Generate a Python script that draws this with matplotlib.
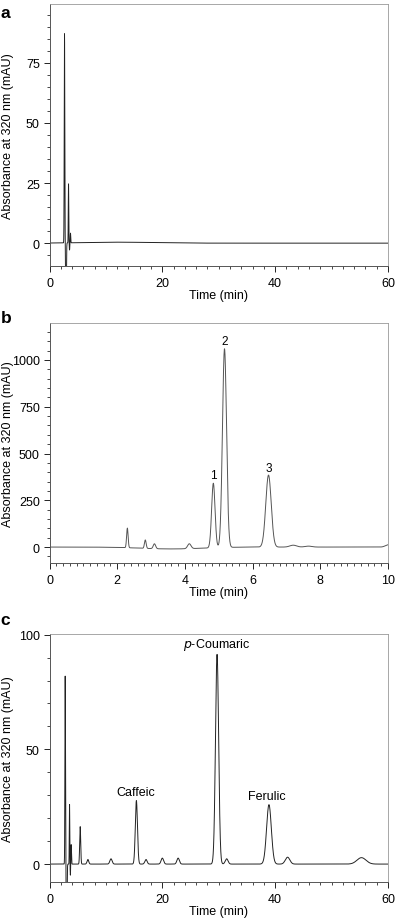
#!/usr/bin/env python3

import numpy as np
import matplotlib
import matplotlib.pyplot as plt
from matplotlib.ticker import MultipleLocator

matplotlib.use('Agg')

plt.rcParams['font.family'] = ['Liberation Sans', 'DejaVu Sans']
plt.rcParams['font.size'] = 9

# peak tables: retention time (min), height (mAU), sigma (min)
# a: blank
times_a = [2.66, 2.92, 3.37, 3.55, 3.72, 12.0]
heights_a = [87.0, -30.0, 24.5, -3.0, 4.0, 0.4]
widths_a = [0.05, 0.06, 0.04, 0.04, 0.04, 6.0]

# b: standards 1, 2, 3
times_b = [2.30, 2.83, 3.10, 3.60, 4.13, 4.84, 5.17, 6.47, 7.20, 7.65, 10.0]
heights_b = [105.0, 45.0, 26.0, -10.0, 26.0, 345.0, 1062.0, 385.0, 10.0, 5.0, 12.0]
widths_b = [0.022, 0.025, 0.035, 0.9, 0.05, 0.05, 0.06, 0.08, 0.1, 0.1, 0.08]
labels_b = ['1', '2', '3']
label_pos_b = [(4.84, 352), (5.17, 1070), (6.47, 390)]

# c: sample
times_c = [2.78, 3.02, 3.55, 3.70, 3.84, 5.44, 6.8, 10.9, 15.4, 17.1, 20.0, 22.8,
           29.7, 31.4, 38.9, 42.2, 55.3]
heights_c = [82.0, -28.0, 26.0, -5.0, 8.5, 16.3, 2.0, 2.3, 27.7, 2.0, 2.6, 2.6,
             91.4, 2.3, 25.9, 3.0, 2.8]
widths_c = [0.05, 0.07, 0.04, 0.04, 0.05, 0.09, 0.15, 0.2, 0.19, 0.2, 0.22, 0.22,
            0.28, 0.25, 0.42, 0.4, 0.8]
labels_c = ['Caffeic', '$\\it{p}$-Coumaric', 'Ferulic']
label_pos_c = [(15.3, 31.3), (29.6, 95.8), (38.6, 29.5)]


def trace(t, times, heights, widths):
    y = np.zeros_like(t)
    for t0, h, s in zip(times, heights, widths):
        y += h * np.exp(-0.5 * ((t - t0) / s) ** 2)
    return y


def style(ax, xlim, ylim, xmaj, xmin, ymaj, ymin):
    ax.set_xlim(*xlim)
    ax.set_ylim(*ylim)
    ax.xaxis.set_major_locator(MultipleLocator(xmaj))
    ax.xaxis.set_minor_locator(MultipleLocator(xmin))
    ax.yaxis.set_major_locator(MultipleLocator(ymaj))
    ax.yaxis.set_minor_locator(MultipleLocator(ymin))
    ax.tick_params(which='major', direction='out', length=4, width=0.6, labelsize=9)
    ax.tick_params(axis='x', which='major', pad=4)
    ax.tick_params(axis='y', which='major', pad=3)
    ax.tick_params(which='minor', direction='out', length=2.5, width=0.5)
    for side in ['left', 'bottom']:
        ax.spines[side].set_color('#555555')
        ax.spines[side].set_linewidth(0.7)
    for side in ['top', 'right']:
        ax.spines[side].set_color('#999999')
        ax.spines[side].set_linewidth(0.6)
    ax.set_xlabel('Time (min)', fontsize=9, labelpad=0)
    ax.set_ylabel('Absorbance at 320 nm (mAU)', fontsize=9)
    ax.yaxis.set_label_coords(-0.106, 0.5)


fig = plt.figure(figsize=(3.97, 9.2), dpi=100)
W = 0.8526
ax_a = fig.add_axes([0.1247, 0.7098, W, 0.2848])
ax_b = fig.add_axes([0.1247, 0.3870, W, 0.2605])
ax_c = fig.add_axes([0.1247, 0.0405, W, 0.2693])

t60 = np.linspace(0, 60, 12001)
t10 = np.linspace(0, 10, 4001)

ax_a.plot(t60, trace(t60, times_a, heights_a, widths_a), color='#222222', lw=0.7)
style(ax_a, (0, 60), (-9.5, 99.5), 20, 2, 25, 5)

ax_b.plot(t10, trace(t10, times_b, heights_b, widths_b), color='#555555', lw=0.7)
style(ax_b, (0, 10), (-85, 1196), 2, 0.2, 250, 50)
for lab, (x, y) in zip(labels_b, label_pos_b):
    ax_b.text(x, y, lab, ha='center', va='bottom', fontsize=8.5)

ax_c.plot(t60, trace(t60, times_c, heights_c, widths_c), color='#222222', lw=0.7)
style(ax_c, (0, 60), (-7.7, 100.3), 20, 2, 50, 10)
for lab, (x, y) in zip(labels_c, label_pos_c):
    ax_c.text(x, y, lab, ha='center', va='center', fontsize=9)

for lab, y in zip(['a', 'b', 'c'], [0.9935, 0.6615, 0.3335]):
    fig.text(0.002, y, lab, fontsize=12.5, fontweight='bold', va='top', ha='left')

fig.savefig('out.png', dpi=100)
